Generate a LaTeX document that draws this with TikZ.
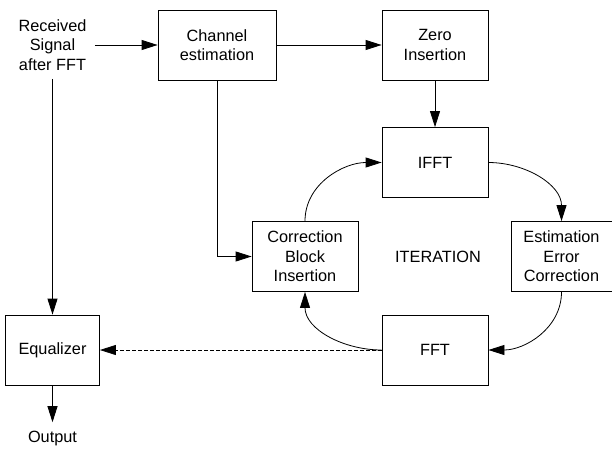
\documentclass[tikz,border=0pt]{standalone}
\usepackage{fontspec}
\setmainfont{Liberation Sans}
\usetikzlibrary{arrows.meta}
\begin{document}
\begin{tikzpicture}[node distance=100pt,>={Triangle[length=16pt,width=10pt]},line width=0.8pt,
  font=\fontsize{16.3}{19.5}\selectfont]
\tikzstyle{block}=[draw,align=center,minimum width=106pt,minimum height=70pt]
\tikzstyle{txt}=[align=center,inner sep=8pt]
\useasboundingbox (0,0) rectangle (612pt,-449pt);
\node (recv) [txt] at (52.5pt,-45pt) {Received\\Signal\\after FFT};
\node (chan) [block,right of=recv,node distance=164.5pt,minimum width=118pt] {Channel\\estimation};
\node (zero) [block,right of=chan,node distance=218pt] {Zero\\Insertion};
\node (ifft) [block,below of=zero,node distance=117.5pt] {IFFT};
\node (iter) [txt,below of=ifft,node distance=94pt,xshift=3pt] {ITERATION};
\node (corr) [block,left of=iter,node distance=133pt] {Correction\\Block\\Insertion};
\node (eec) [block,right of=iter,node distance=123.5pt,minimum width=101pt] {Estimation\\Error\\Correction};
\node (fft) [block,below of=ifft,node distance=187.5pt] {FFT};
\node (eq) [block,below of=recv,node distance=305pt,minimum width=94pt] {Equalizer};
\node (out) [txt,below of=eq,node distance=88pt] {Output};
\draw[->] (recv) -- (chan);
\draw[->] (chan) -- (zero);
\draw[->] (zero) -- (ifft);
\draw[->] (chan) |- (corr);
\draw[->] (recv) -- (eq);
\draw[->] (eq) -- (out);
\draw[->] (ifft.east) to[out=0,in=90] (eec.north);
\draw[->] (eec.south) to[out=-90,in=0] (fft.east);
\draw[->] (fft.west) to[out=180,in=-90] (corr.south);
\draw[->] (corr.north) to[out=90,in=180] (ifft.west);
\draw[->,dash pattern=on 4pt off 2pt] (fft) -- (eq);
\end{tikzpicture}
\end{document}
